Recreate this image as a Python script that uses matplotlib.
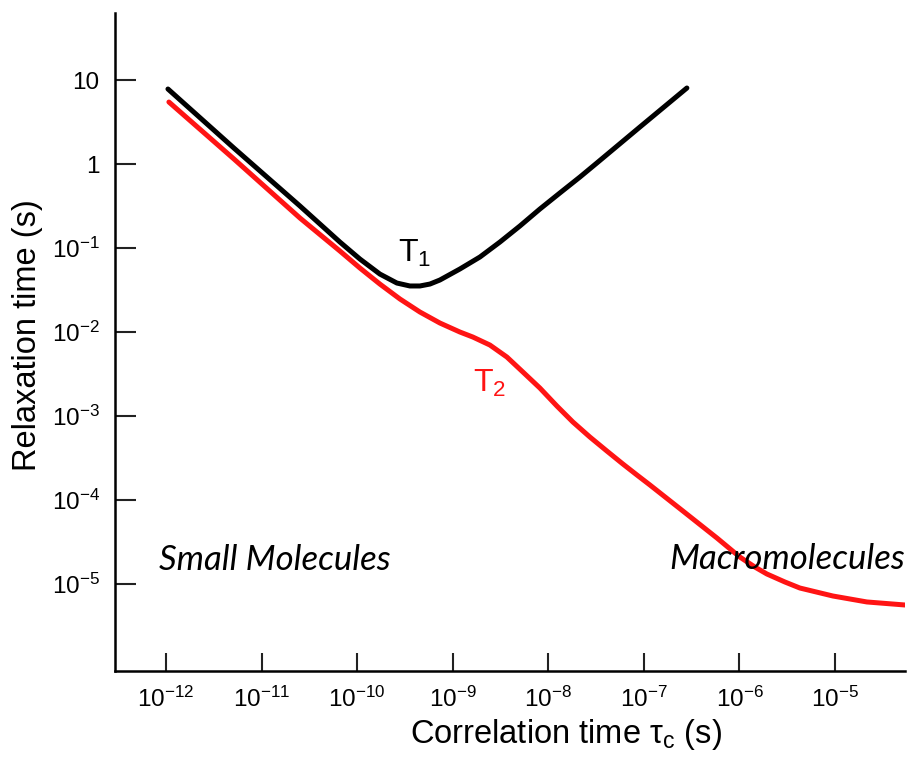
import numpy as np
import matplotlib
matplotlib.use('Agg')
import matplotlib.pyplot as plt
from matplotlib.ticker import FixedLocator, FixedFormatter, NullLocator

plt.rcParams['font.family'] = ['Liberation Sans', 'DejaVu Sans']
plt.rcParams['mathtext.fontset'] = 'custom'
plt.rcParams['mathtext.rm'] = 'Liberation Sans'
plt.rcParams['mathtext.it'] = 'Liberation Sans:italic'

# log10 of correlation time (s) and relaxation time (s)
t1_logtau = [-11.979, -11.289, -10.598, -10.180, -9.971, -9.762, -9.584,
             -9.448, -9.343, -9.238, -9.134, -8.925, -8.715, -8.506, -8.297,
             -8.088, -7.879, -7.669, -7.492, -7.042, -6.550]
t1_logval = [0.893, 0.190, -0.500, -0.929, -1.131, -1.310, -1.417,
             -1.452, -1.452, -1.429, -1.381, -1.250, -1.107, -0.929, -0.738,
             -0.536, -0.345, -0.155, 0.012, 0.440, 0.905]

t2_logtau = [-11.969, -11.289, -10.598, -10.180, -9.971, -9.762, -9.552,
             -9.343, -9.134, -8.925, -8.789, -8.611, -8.433, -8.266, -8.088,
             -7.910, -7.743, -7.565, -7.387, -7.220, -7.073, -6.937, -6.592,
             -6.236, -5.996, -5.839, -5.713, -5.525, -5.368, -5.023, -4.667,
             -4.270]
t2_logval = [0.738, 0.060, -0.643, -1.036, -1.238, -1.429, -1.607,
             -1.762, -1.893, -2.000, -2.060, -2.155, -2.298, -2.476, -2.667,
             -2.881, -3.071, -3.250, -3.417, -3.571, -3.702, -3.821, -4.131,
             -4.452, -4.679, -4.798, -4.881, -4.976, -5.048, -5.143, -5.214,
             -5.250]

x_ticks = [1e-12, 1e-11, 1e-10, 1e-9, 1e-8, 1e-7, 1e-6, 1e-5]
x_labels = [r'$10^{-12}$', r'$10^{-11}$', r'$10^{-10}$', r'$10^{-9}$',
            r'$10^{-8}$', r'$10^{-7}$', r'$10^{-6}$', r'$10^{-5}$']
y_ticks = [10, 1, 1e-1, 1e-2, 1e-3, 1e-4, 1e-5]
y_labels = ['10', '1', r'$10^{-1}$', r'$10^{-2}$', r'$10^{-3}$',
            r'$10^{-4}$', r'$10^{-5}$']

red = '#ff1414'

fig = plt.figure(figsize=(9.09, 7.69), dpi=100)
ax = fig.add_axes([115 / 909, 1 - 671 / 769, 790 / 909, 658 / 769])

ax.plot(10 ** np.array(t1_logtau), 10 ** np.array(t1_logval), color='black',
        lw=3.6, solid_capstyle='round', solid_joinstyle='round')
ax.plot(10 ** np.array(t2_logtau), 10 ** np.array(t2_logval), color=red,
        lw=3.6, solid_capstyle='round', solid_joinstyle='round')

ax.set_xscale('log')
ax.set_yscale('log')
ax.set_xlim(10 ** -12.533, 10 ** -4.268)
ax.set_ylim(10 ** -6.036, 10 ** 1.798)

ax.xaxis.set_major_locator(FixedLocator(x_ticks))
ax.xaxis.set_major_formatter(FixedFormatter(x_labels))
ax.yaxis.set_major_locator(FixedLocator(y_ticks))
ax.yaxis.set_major_formatter(FixedFormatter(y_labels))
ax.xaxis.set_minor_locator(NullLocator())
ax.yaxis.set_minor_locator(NullLocator())

ax.spines['top'].set_visible(False)
ax.spines['right'].set_visible(False)
for s in ['left', 'bottom']:
    ax.spines[s].set_linewidth(1.8)

ax.tick_params(axis='both', direction='in', width=1.5, labelsize=17.5,
               color='#222222')
ax.tick_params(axis='y', length=15, pad=11)
ax.tick_params(axis='x', length=13, pad=11)

ax.set_ylabel('Relaxation time (s)', fontsize=23.5)
ax.yaxis.set_label_coords(-0.091, 0.51)
ax.set_xlabel(r'Correlation time τ$_{\rm c}$ (s)', fontsize=23.5)
ax.xaxis.set_label_coords(0.5715, -0.1094)
ax.xaxis.label.set_va('baseline')

ax.text(0.358, 0.6216, r'T$_1$', transform=ax.transAxes, fontsize=23,
        ha='left', va='baseline', color='black')
ax.text(0.4532, 0.424, r'T$_2$', transform=ax.transAxes, fontsize=23,
        ha='left', va='baseline', color=red)

ax.text(0.0557, 0.1535, 'Small Molecules', transform=ax.transAxes,
        fontsize=25, fontfamily='Lato', style='italic', ha='left',
        va='baseline')
ax.text(1.0, 0.155, 'Macromolecules', transform=ax.transAxes,
        fontsize=25, fontfamily='Lato', style='italic', ha='right',
        va='baseline')

fig.savefig('out.png', dpi=100)
